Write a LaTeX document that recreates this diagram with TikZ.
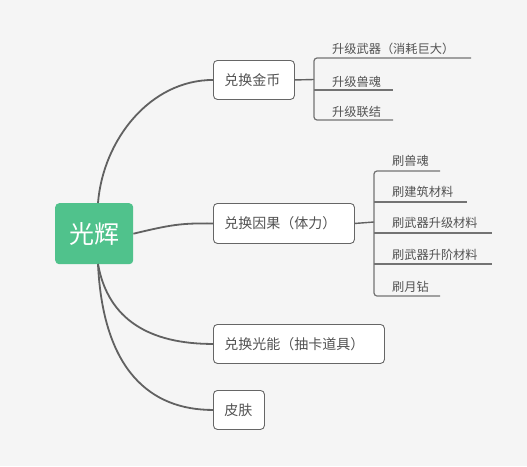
\documentclass[tikz,border=0pt]{standalone}
\usepackage{fontspec}
\setmainfont{Noto Sans CJK SC}
\begin{document}
\begin{tikzpicture}[x=1pt,y=-1pt,
  lvone/.style={draw=black!60,fill=white,rounded corners=4pt,line width=0.9pt,text=black!68,font=\fontsize{14}{16}\selectfont,inner xsep=11pt,inner ysep=0pt,align=left,anchor=north west},
  lvtwo/.style={text=black!68,font=\fontsize{12.2}{14}\selectfont,inner sep=0pt,anchor=west},
  conn/.style={draw=black!62,line width=1.8pt},
  brack/.style={draw=black!55,line width=1.2pt,rounded corners=3pt}]
\fill[black!4] (0,0) rectangle (527,466);
\useasboundingbox (0,0) rectangle (527,466);
% central
\node[fill={rgb,255:red,80;green,194;blue,140},rounded corners=4pt,minimum width=78pt,minimum height=61pt,anchor=north west,inner sep=0pt,text=white,font=\fontsize{25}{28}\selectfont] (c) at (55,203) {光辉};
% level 1
\node[lvone,text width=59pt,minimum height=39pt] (a) at (213,60) {兑换金币};
\node[lvone,text width=119pt,minimum height=40pt] (b) at (213,203) {兑换因果（体力）};
\node[lvone,text width=149pt,minimum height=39pt] (d) at (213,324) {兑换光能（抽卡道具）};
\node[lvone,text width=29pt,minimum height=39pt] (e) at (213,390) {皮肤};
% connectors from central
\coordinate (ct) at (98,203);
\coordinate (cb) at (98,264);
\draw[conn] (ct) .. controls (103,140) and (150,80) .. (a.west);
\draw[conn] (c.east) .. controls (170,225) and (180,223) .. (b.west);
\draw[conn] (cb) .. controls (108,320) and (150,344) .. (d.west);
\draw[conn] (cb) .. controls (103,370) and (150,410) .. (e.west);
% group 1
\coordinate (ga) at (314,79.5);
\draw[conn,line width=1.4pt] (a.east) -- (ga);
\node[lvtwo] (a1) at (332,49) {升级武器（消耗巨大）};
\node[lvtwo] (a2) at (332,82) {升级兽魂};
\node[lvtwo] (a3) at (332,112) {升级联结};
\coordinate (a1e) at (471,58);
\coordinate (a2s) at (314,90);
\coordinate (a2e) at (393,90);
\coordinate (a3e) at (393,120);
\draw[brack] (a3e) -- (314,120) -- (314,58) -- (a1e);
\draw[brack] (a2s) -- (a2e);
% group 2
\coordinate (gb) at (374,222);
\draw[conn,line width=1.4pt] (b.east) -- (gb);
\node[lvtwo] (b1) at (392,161) {刷兽魂};
\node[lvtwo] (b2) at (392,192) {刷建筑材料};
\node[lvtwo] (b3) at (392,223) {刷武器升级材料};
\node[lvtwo] (b4) at (392,255) {刷武器升阶材料};
\node[lvtwo] (b5) at (392,287) {刷月钻};
\coordinate (b1e) at (440,171);
\coordinate (b5e) at (440,296);
\draw[brack] (b5e) -- (374,296) -- (374,171) -- (b1e);
\draw[brack] (374,202) -- (467,202);
\draw[brack] (374,233) -- (492,233);
\draw[brack] (374,264) -- (492,264);
\end{tikzpicture}
\end{document}
